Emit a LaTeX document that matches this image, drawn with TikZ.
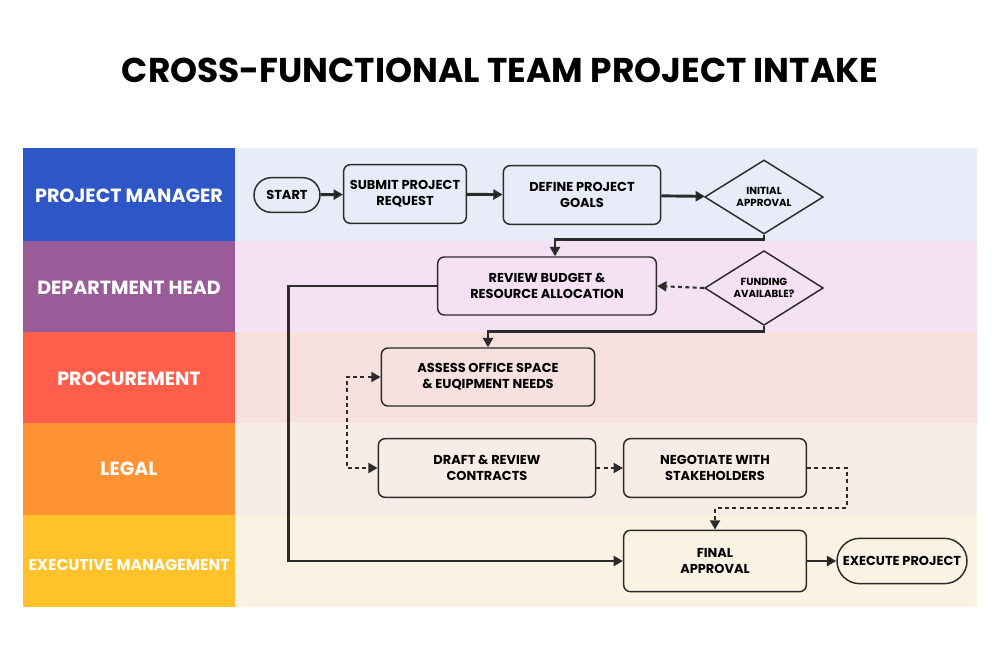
\documentclass[tikz,border=0pt]{standalone}
\usepackage{fontspec}
\setmainfont{Poppins}
\usepackage{tikz}
\usetikzlibrary{shapes.geometric,shapes.misc,arrows.meta}
\definecolor{ink}{HTML}{2B2B2B}
\definecolor{pmC}{HTML}{2E56C6}
\definecolor{dhC}{HTML}{9A5C98}
\definecolor{prC}{HTML}{FF5E4B}
\definecolor{lgC}{HTML}{FF9232}
\definecolor{exC}{HTML}{FFC22B}
\definecolor{pmL}{HTML}{E8ECF8}
\definecolor{dhL}{HTML}{F4E2F4}
\definecolor{prL}{HTML}{F6E1DF}
\definecolor{lgL}{HTML}{F7EDE6}
\definecolor{exL}{HTML}{FAF3E4}
\tikzstyle{task}=[rectangle,rounded corners=5pt,draw=ink,line width=1.1pt,inner sep=0pt,align=center,font=\bfseries\fontsize{9.7}{12}\selectfont]
\tikzstyle{term}=[rounded rectangle,draw=ink,line width=1.1pt,inner sep=0pt,align=center,font=\bfseries\fontsize{9.7}{12}\selectfont]
\tikzstyle{decision}=[diamond,draw=ink,line width=1.1pt,inner sep=0pt,aspect=1.6,align=center,font=\bfseries\fontsize{7.7}{9.5}\selectfont]
\tikzstyle{lane}=[text=white,font=\bfseries\fontsize{14.3}{16}\selectfont]
\tikzstyle{flow}=[draw=ink,line width=2.2pt,-{Triangle[length=7pt,width=7.5pt]}]
\tikzstyle{maybe}=[draw=ink,line width=1.6pt,dash pattern=on 3pt off 2.5pt,-{Triangle[length=7pt,width=7.5pt]}]

\begin{document}
\begin{tikzpicture}[x=0.75pt,y=-0.75pt]
  \useasboundingbox (0,0) rectangle (1000,667);
  \fill[white] (0,0) rectangle (1000,667);
  \node (title) at (500,70) {\bfseries\fontsize{25.8}{30}\selectfont CROSS-FUNCTIONAL TEAM PROJECT INTAKE};
  % swim lanes
  \fill[pmL] (235,148) rectangle (977,241);
  \fill[dhL] (235,241) rectangle (977,332);
  \fill[prL] (235,332) rectangle (977,423);
  \fill[lgL] (235,423) rectangle (977,515);
  \fill[exL] (235,515) rectangle (977,607);
  \fill[pmC] (23,148) rectangle (235,241);
  \fill[dhC] (23,241) rectangle (235,332);
  \fill[prC] (23,332) rectangle (235,423);
  \fill[lgC] (23,423) rectangle (235,515);
  \fill[exC] (23,515) rectangle (235,607);
  \node (Lpm) [lane] at (129,196) {PROJECT MANAGER};
  \node (Ldh) [lane] at (129,288) {DEPARTMENT HEAD};
  \node (Lpr) [lane] at (129,379) {PROCUREMENT};
  \node (Llg) [lane] at (129,469) {LEGAL};
  \node (Lex) [lane,font=\bfseries\fontsize{11.7}{13}\selectfont] at (129,565) {EXECUTIVE MANAGEMENT};
  % steps
  \node (start) [term,minimum width=49.5pt,minimum height=26pt] at (287,195) {START};
  \node (submit) [task,minimum width=92pt,minimum height=44pt] at (405,194) {SUBMIT PROJECT\\REQUEST};
  \node (goals) [task,minimum width=118pt,minimum height=44pt] at (582,195) {DEFINE PROJECT\\GOALS};
  \node (init) [decision,minimum width=89pt,minimum height=55.5pt] at (764,197) {INITIAL\\APPROVAL};
  \node (budget) [task,minimum width=164pt,minimum height=43.5pt] at (547,286) {REVIEW BUDGET \&\\RESOURCE ALLOCATION};
  \node (fund) [decision,minimum width=89pt,minimum height=56pt] at (764,288) {FUNDING\\AVAILABLE?};
  \node (space) [task,minimum width=160pt,minimum height=43.5pt] at (488,377) {ASSESS OFFICE SPACE\\\& EUQIPMENT NEEDS};
  \node (draft) [task,minimum width=163pt,minimum height=44pt] at (487,468) {DRAFT \& REVIEW\\CONTRACTS};
  \node (nego) [task,minimum width=137pt,minimum height=44pt] at (715,468) {NEGOTIATE WITH\\STAKEHOLDERS};
  \node (final) [task,minimum width=137pt,minimum height=46pt] at (715,561) {FINAL\\APPROVAL};
  \node (exec) [term,minimum width=97.5pt,minimum height=34pt] at (902,561) {EXECUTE PROJECT};
  % connectors
  \path[flow]
    (start) edge (submit)
    (submit) edge (goals)
    (goals) edge (init)
    (final) edge (exec);
  \draw[flow] (init.south) -- ++(0,5) -| ([xshift=6pt]budget.north);
  \draw[flow] (fund.south) -- ++(0,5) -| (space.north);
  \draw[flow] (budget.west) -- ++(-148,0) |- (final.west);
  \draw[maybe] (fund.west) -- (budget.east);
  \draw[maybe,{Triangle[length=7pt,width=7.5pt]}-{Triangle[length=7pt,width=7.5pt]}] (space.west) -- ++(-34,0) |- (draft.west);
  \draw[maybe] (draft) -- (nego);
  \draw[maybe] (nego.east) -- ++(40,0) -- ++(0,40) -| (final.north);
\end{tikzpicture}
\end{document}
